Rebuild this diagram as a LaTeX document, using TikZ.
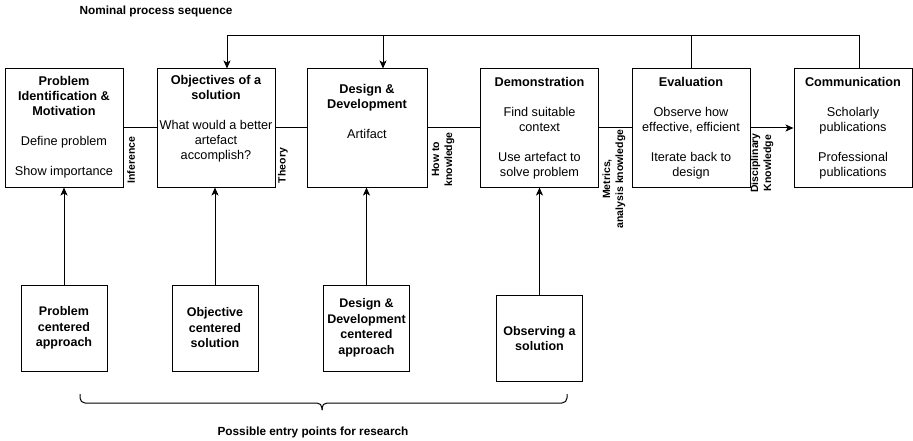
\documentclass[tikz,border=0pt]{standalone}
\usepackage{fontspec}
\setmainfont{Liberation Sans}
\usetikzlibrary{arrows.meta}
\begin{document}
\begin{tikzpicture}[x=1pt,y=-1pt,
  stage/.style={draw, line width=1pt, minimum width=118pt, minimum height=118pt, inner sep=0pt},
  entry/.style={draw, line width=1pt, minimum width=86pt, minimum height=86pt, inner sep=0pt,
    align=center, font=\fontsize{12.5}{15.5}\selectfont\bfseries},
  body/.style={align=center, inner sep=0pt, font=\fontsize{12.7}{15}\selectfont,
    execute at begin node=\strut, execute at end node=\strut},
  flowlabel/.style={rotate=90, align=center, inner sep=0pt, font=\fontsize{10.5}{13}\selectfont\bfseries},
  heading/.style={font=\fontsize{11.8}{14}\selectfont\bfseries, inner sep=0pt},
  link/.style={line width=1pt},
  arr/.style={line width=1pt, -{Stealth[length=8pt,width=7pt,inset=2pt]}}
]
\useasboundingbox (0,0) rectangle (913,441);

% process stages
\node[stage] (p1) at (64,128) {};
\node[stage] (p2) at (216,128) {};
\node[stage, minimum width=120pt] (p3) at (367,128) {};
\node[stage] (p4) at (539.5,128) {};
\node[stage] (p5) at (691,128) {};
\node[stage] (p6) at (853,128) {};

\node[body] (p1t) at (64,128) {\textbf{Problem}\\\textbf{Identification \&}\\\textbf{Motivation}\\[15pt]Define problem\\[15pt]Show importance};
\node[body] (p2t) at (216,120) {\textbf{Objectives of a}\\\textbf{solution}\\[15pt]What would a better\\artefact\\accomplish?};
\node[body] (p3t) at (367,113.5) {\textbf{Design \&}\\\textbf{Development}\\[15pt]Artifact};
\node[body] (p4t) at (539.5,129) {\textbf{Demonstration}\\[15pt]Find suitable\\context\\[15pt]Use artefact to\\solve problem};
\node[body] (p5t) at (691,129) {\textbf{Evaluation}\\[15pt]Observe how\\effective, efficient\\[15pt]Iterate back to\\design};
\node[body] (p6t) at (853,129) {\textbf{Communication}\\[15pt]Scholarly\\publications\\[15pt]Professional\\publications};

% links along the sequence
\draw[link] (p1) -- (p2);
\draw[link] (p2) -- (p3);
\draw[link] (p3) -- (p4);
\draw[link] (p4) -- (p5);
\draw[arr] (p5) -- (p6);

\node[flowlabel] (l1) at (131,160) {Inference};
\node[flowlabel] (l2) at (283,165.5) {Theory};
\node[flowlabel] (l3) at (443,159.5) {How to\\knowledge};
\node[flowlabel] (l4) at (614,179) {Metrics,\\analysis knowledge};
\node[flowlabel] (l5) at (762,163) {Disciplinary\\Knowledge};

% iteration feedback bus
\coordinate (bus2) at (227,36);
\coordinate (bus3) at (383,36);
\coordinate (bus5) at (691,36);
\coordinate (bus6) at (859,36);
\draw[link] (p6.north -| bus6) -- (bus6) -- (bus2);
\draw[link] (p5.north) -- (bus5);
\draw[arr] (bus2) -- (bus2 |- p2.north);
\draw[arr] (bus3) -- (bus3 |- p3.north);

\node[heading] (nom) at (156,11) {Nominal process sequence};

% entry points
\node[entry] (e1) at (64,328) {Problem\\centered\\approach};
\node[entry] (e2) at (215,328) {Objective\\centered\\solution};
\node[entry] (e3) at (366.5,328) {Design \&\\Development\\centered\\approach};
\node[entry] (e4) at (539.5,338.5) {Observing a\\solution};

\draw[arr] (e1.north) -- (e1.north |- p1.south);
\draw[arr] (e2.north) -- (e2.north |- p2.south);
\draw[arr] (e3.north) -- (e3.north |- p3.south);
\draw[arr] (e4.north) -- (e4.north |- p4.south);

% brace grouping the entry points
\coordinate (bl) at (80,394);
\coordinate (br) at (567,394);
\coordinate (bt) at (322,410);
\draw[link, rounded corners=5pt] (bl) -- (bl |- 0,403) -- (bt |- 0,403) -- (bt);
\draw[link, rounded corners=5pt] (br) -- (br |- 0,403) -- (bt |- 0,403) -- (bt);

\node[heading] (ent) at (313,432) {Possible entry points for research};
\end{tikzpicture}
\end{document}
